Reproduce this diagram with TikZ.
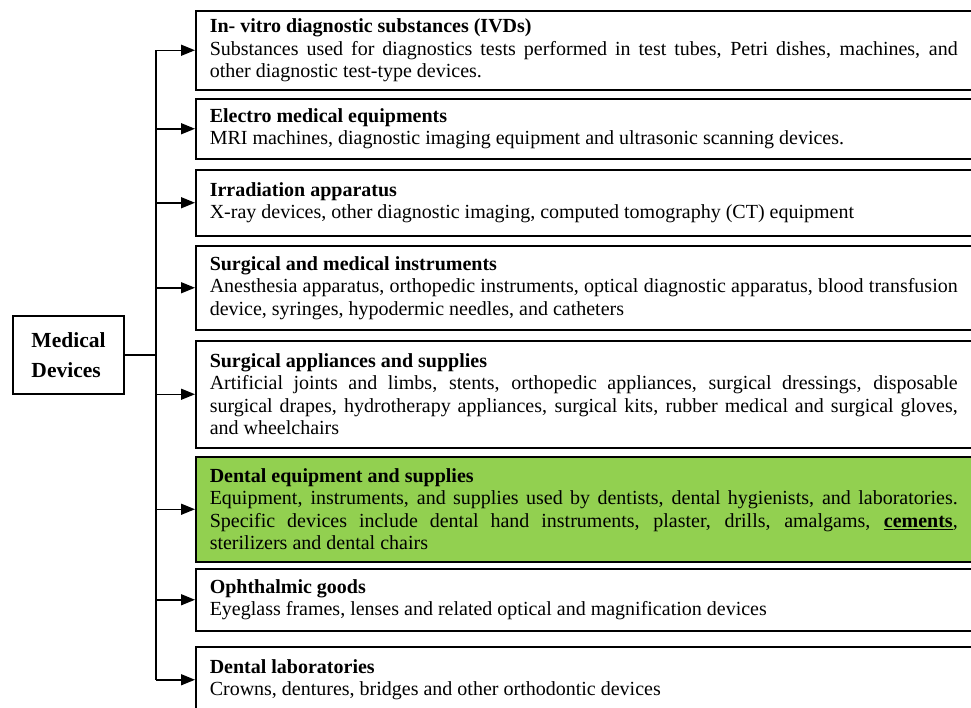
\documentclass[tikz,border=0pt]{standalone}
\usepackage{fontspec}
\setmainfont{Liberation Serif}
\usetikzlibrary{arrows.meta}
\definecolor{dentgreen}{RGB}{146,208,80}
\hyphenpenalty=10000
\tolerance=9999
\newcommand{\wordspace}{\spaceskip=\fontdimen2\font plus \fontdimen3\font minus 0pt\relax}
\tikzset{item/.style={draw, line width=1.5pt, anchor=north west, text width=748pt,
      align=justify, inner xsep=14pt, inner ysep=6pt,
      font=\fontsize{20}{22.5}\selectfont\wordspace}}
\tikzset{root/.style={draw, line width=1.5pt, minimum width=111pt, minimum height=78pt,
      align=left, font=\fontsize{21.5}{30}\selectfont\bfseries}}
\tikzset{feed/.style={line width=1.5pt, -{Triangle[length=14pt,width=11pt]}}}

\begin{document}
\begin{tikzpicture}[x=1pt,y=-1pt]
		\useasboundingbox (0,0) rectangle (971,707);
		\node[root] (md) at (68.5,355) {Medical\\Devices};
		\node[item, minimum height=79pt] (ivd) at (195,10) {\textbf{In- vitro diagnostic substances (IVDs)}\\Substances used for diagnostics tests performed in test tubes, Petri dishes, machines, and other diagnostic test-type devices.};
		\node[item, minimum height=60pt] (elec) at (195,98) {\textbf{Electro medical equipments}\\MRI machines, diagnostic imaging equipment and ultrasonic scanning devices.};
		\node[item, minimum height=66pt] (irr) at (195,169) {\textbf{Irradiation apparatus}\\X-ray devices, other diagnostic imaging, computed tomography (CT) equipment};
		\node[item, minimum height=84pt] (surg) at (195,245) {\textbf{Surgical and medical instruments}\\Anesthesia apparatus, orthopedic instruments, optical diagnostic apparatus, blood transfusion device, syringes, hypodermic needles, and catheters};
		\node[item, minimum height=107pt] (supp) at (195,340) {\textbf{Surgical appliances and supplies}\\Artificial joints and limbs, stents, orthopedic appliances, surgical dressings, disposable surgical drapes, hydrotherapy appliances, surgical kits, rubber medical and surgical gloves, and wheelchairs};
		\node[item, minimum height=105pt, fill=dentgreen] (dent) at (195,456) {\textbf{Dental equipment and supplies}\\Equipment, instruments, and supplies used by dentists, dental hygienists, and laboratories. Specific devices include dental hand instruments, plaster, drills, amalgams, \underline{\textbf{cements}}, sterilizers and dental chairs};
		\node[item, minimum height=62pt] (oph) at (195,568) {\textbf{Ophthalmic goods}\\Eyeglass frames, lenses and related optical and magnification devices};
		\node[item, minimum height=66pt] (lab) at (195,646) {\textbf{Dental laboratories}\\Crowns, dentures, bridges and other orthodontic devices};
		% branch lines
		\coordinate (trunk) at (156,355);
		\draw[line width=1.5pt] (md.east) -- (trunk);
		\draw[line width=1.5pt] (trunk |- ivd.west) -- (trunk |- lab.west);
		\foreach \b in {ivd,elec,irr,surg,supp,dent,oph,lab}
			\draw[feed] (trunk |- \b.west) -- (\b.west);
\end{tikzpicture}
\end{document}
